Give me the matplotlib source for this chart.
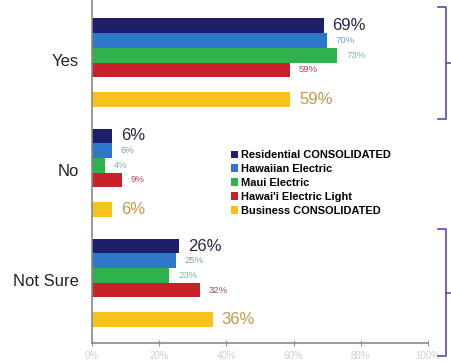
import numpy as np
import matplotlib
matplotlib.use('Agg')
import matplotlib.pyplot as plt
from matplotlib.lines import Line2D

plt.rcParams['font.family'] = ['Liberation Sans', 'DejaVu Sans']

# survey answers, percent per company
answers = ['Yes', 'No', 'Not Sure']
series = ['Residential CONSOLIDATED', 'Hawaiian Electric', 'Maui Electric',
          "Hawai'i Electric Light", 'Business CONSOLIDATED']
residential = [69, 6, 26]
hawaiian = [70, 6, 25]
maui = [73, 4, 23]
hawaii_light = [59, 9, 32]
business = [59, 6, 36]

bar_colors = ['#1d1f6b', '#2f78c9', '#2fb24c', '#c92129', '#f8c21c']
text_colors = ['#26264a', '#7f9cb8', '#7fb8a8', '#a84a55', '#c4974a']
text_sizes = [12, 6.8, 6.8, 6.8, 12]
slots = [0, 1, 2, 3, 5]
group_step = 7.5

fig = plt.figure(figsize=(4.51, 3.64), dpi=100)
ax = fig.add_axes([0.204, 0.0577, 0.745, 0.942])

values = [residential, hawaiian, maui, hawaii_light, business]
for k, vals in enumerate(values):
    ypos = np.arange(len(answers)) * group_step + slots[k]
    ax.barh(ypos, vals, height=1.0, color=bar_colors[k], label=series[k])
    for y, v in zip(ypos, vals):
        ax.text(v + 2.6, y, '%d%%' % v, color=text_colors[k],
                fontsize=text_sizes[k], va='center', ha='left')

for g, name in enumerate(answers):
    ax.text(-3.8, g * group_step + 2.4, name, ha='right', va='center',
            fontsize=12, color='#222222')

ax.set_xlim(0, 100)
ax.set_ylim(21.6, -1.75)
ax.set_xticks(np.arange(0, 101, 20))
ax.set_xticklabels(['%d%%' % t for t in range(0, 101, 20)],
                   color='#cfcfcf', fontsize=7)
ax.tick_params(axis='x', direction='inout', length=4, color='#999999', pad=4)
ax.set_yticks([])
for s in ['top', 'right']:
    ax.spines[s].set_visible(False)
for s in ['left', 'bottom']:
    ax.spines[s].set_color('#8a8a8a')
    ax.spines[s].set_linewidth(1.2)

leg = ax.legend(loc='upper left', bbox_to_anchor=(0.40, 0.575), frameon=False,
                fontsize=7.9, handlelength=0.7, handleheight=0.7,
                handletextpad=0.2, labelspacing=0.35, borderaxespad=0)
for t in leg.get_texts():
    t.set_fontweight('bold')

# right side braces around the Yes and Not Sure groups
W, H = 451.0, 364.0
def brace(y0, y1, x=446, arm=8, nub=4):
    ym = (y0 + y1) / 2
    pts = [([x - arm, x, x, x - arm], [y0, y0, y1, y1]),
           ([x, x + nub], [ym, ym])]
    for xs, ys in pts:
        fig.add_artist(Line2D([v / W for v in xs], [1 - v / H for v in ys],
                              color='#6b45a6', lw=1.2))

brace(7, 119)
brace(229, 356)

fig.savefig('out.png', dpi=100)
